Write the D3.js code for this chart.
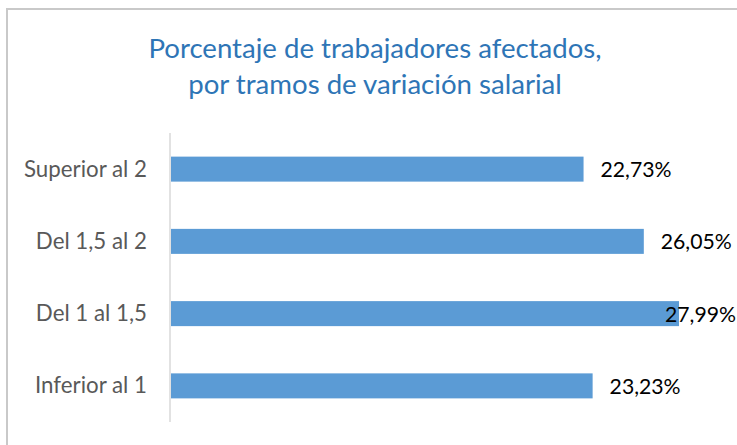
<!DOCTYPE html>
<html><head><meta charset="utf-8">
<script src="https://cdn.jsdelivr.net/npm/d3@7"></script>
<style>html,body{margin:0;padding:0;background:#fff;}svg{display:block;}</style>
</head><body>
<script>
const categories = ["Superior al 2", "Del 1,5 al 2", "Del 1 al 1,5", "Inferior al 1"];
const values = [22.73, 26.05, 27.99, 23.23];
const valueLabels = ["22,73%", "26,05%", "27,99%", "23,23%"];
const titleLines = ["Porcentaje de trabajadores afectados,", "por tramos de variación salarial"];

const W = 737, H = 445;
const svg = d3.select("body").append("svg").attr("width", W).attr("height", H);

svg.append("rect").attr("x", 7).attr("y", 9).attr("width", 800).attr("height", 500)
  .attr("fill", "#fff").attr("stroke", "#c9c9c9").attr("stroke-width", 2);

const font = "Lato, 'Open Sans', sans-serif";

svg.append("g").selectAll("text").data(titleLines).join("text")
  .attr("x", 375).attr("y", (d, i) => 58 + i * 36)
  .attr("text-anchor", "middle").attr("font-family", font).attr("font-size", 27.6)
  .attr("fill", "#2e75b6").text(d => d);

const x = d3.scaleLinear().domain([0, 30]).range([171, 715.5]);
const y = d3.scaleBand().domain(categories).range([133, 422]).paddingInner(0.654).paddingOuter(0.327);

svg.append("line").attr("x1", 170).attr("x2", 170).attr("y1", 133).attr("y2", 422)
  .attr("stroke", "#d9d9d9").attr("stroke-width", 1.5);

svg.append("g").selectAll("rect").data(categories).join("rect")
  .attr("x", x(0)).attr("y", d => y(d)).attr("height", y.bandwidth())
  .attr("width", (d, i) => x(values[i]) - x(0)).attr("fill", "#5b9bd5");

svg.append("g").selectAll("text").data(categories).join("text")
  .attr("x", 147).attr("y", d => y(d) + y.bandwidth() / 2 + 7.5)
  .attr("text-anchor", "end").attr("font-family", font).attr("font-size", 22.3)
  .attr("fill", "#595959").text(d => d);

const vl = svg.append("g").selectAll("text").data(categories).join("text")
  .attr("x", (d, i) => x(values[i]) + 17).attr("y", d => y(d) + y.bandwidth() / 2 + 8)
  .attr("font-family", font).attr("font-size", 21.2)
  .attr("fill", "#000").text((d, i) => valueLabels[i]);
vl.each(function() {
  const bb = this.getBBox();
  if (bb.x + bb.width > 736) d3.select(this).attr("x", 736 - bb.width);
});
</script>
</body></html>
